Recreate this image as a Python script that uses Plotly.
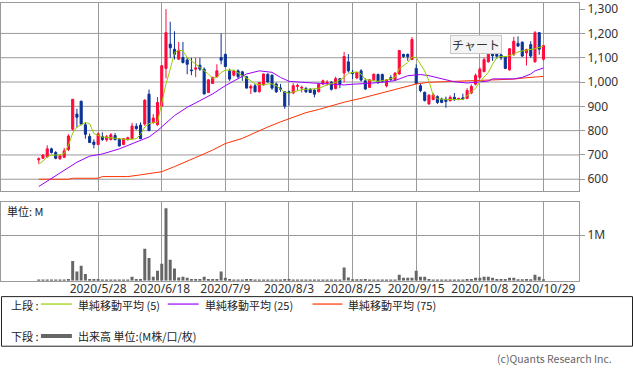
import plotly.graph_objects as go

# ---------------- data ----------------
open_ = [680, 686, 692, 725, 710, 684, 690, 722, 806, 868, 921, 824, 776, 753, 743, 776, 762, 763, 780, 765,
         743, 763, 767, 818, 823, 827, 950, 835, 824, 901, 1056, 1156, 1135, 1094, 1101, 1091, 1050, 1053, 1069, 1053,
         957, 994, 1022, 1101, 1114, 1046, 1028, 1046, 1042, 1022, 975, 985, 960, 988, 1032, 1028, 992, 976, 960, 960,
         955, 982, 975, 973, 970, 967, 960, 992, 995, 1000, 973, 1014, 1037, 1083, 1040, 1017, 1046, 1005, 978, 1009,
         1031, 1031, 984, 1018, 1009, 1033, 1114, 1114, 1093, 1056, 985, 958, 910, 928, 940, 930, 930, 923, 937, 928,
         935, 932, 955, 991, 1019, 1043, 1083, 1114, 1114, 1112, 1103, 1050, 1114, 1159, 1164, 1120, 1154, 1083, 1203, 1094]
high = [690, 702, 740, 730, 716, 700, 729, 785, 930, 890, 923, 835, 788, 764, 792, 793, 782, 790, 790, 770,
        770, 775, 832, 830, 834, 930, 969, 868, 938, 1070, 1300, 1248, 1209, 1165, 1165, 1100, 1100, 1100, 1100, 1060,
        1012, 1022, 1073, 1200, 1116, 1055, 1050, 1052, 1046, 1025, 990, 992, 1000, 1035, 1036, 1032, 998, 992, 963, 965,
        995, 993, 985, 980, 975, 970, 992, 1010, 1008, 1003, 1022, 1016, 1124, 1115, 1050, 1042, 1053, 1015, 1012, 1035,
        1035, 1035, 1012, 1028, 1040, 1132, 1116, 1117, 1185, 1073, 992, 960, 950, 955, 945, 936, 940, 945, 955, 936,
        952, 975, 990, 1035, 1060, 1101, 1127, 1118, 1116, 1116, 1106, 1140, 1186, 1188, 1167, 1137, 1168, 1210, 1205, 1152]
low = [664, 683, 690, 706, 682, 680, 687, 716, 800, 812, 822, 767, 749, 727, 740, 758, 755, 760, 760, 735,
       740, 759, 764, 804, 765, 820, 798, 828, 820, 897, 1015, 1100, 1093, 1091, 1077, 1032, 1028, 1020, 1046, 949,
       955, 992, 1019, 1073, 1060, 1005, 1023, 1015, 1005, 974, 951, 958, 957, 985, 998, 968, 955, 960, 890, 903,
       950, 965, 957, 955, 955, 937, 957, 988, 986, 965, 970, 975, 999, 1039, 1012, 1012, 1002, 968, 975, 1005,
       992, 998, 978, 1005, 1005, 1030, 1100, 1087, 1090, 992, 958, 920, 906, 925, 910, 913, 894, 920, 923, 925,
       928, 930, 950, 986, 1012, 1040, 1080, 1087, 1095, 1090, 1053, 1047, 1107, 1145, 1103, 1068, 1100, 1080, 1112, 1088]
close = [684, 700, 725, 710, 686, 697, 717, 778, 929, 855, 827, 785, 751, 743, 787, 763, 775, 783, 763, 737,
         767, 771, 819, 808, 767, 925, 800, 852, 916, 1067, 1203, 1141, 1114, 1131, 1080, 1073, 1047, 1058, 1053, 951,
         1009, 1019, 1046, 1090, 1064, 1012, 1045, 1022, 1025, 975, 982, 960, 998, 1033, 1000, 975, 960, 970, 901, 955,
         985, 986, 978, 960, 957, 950, 991, 1005, 999, 970, 1014, 991, 1105, 1046, 1035, 1039, 1008, 971, 1009, 1032,
         998, 1003, 1009, 1010, 1037, 1130, 1105, 1104, 1175, 994, 965, 924, 946, 947, 916, 916, 920, 937, 927, 932,
         930, 965, 982, 1027, 1053, 1092, 1114, 1108, 1106, 1100, 1056, 1137, 1168, 1148, 1107, 1134, 1107, 1203, 1135, 1150]
volume_m = [0.015, 0.015, 0.02, 0.015, 0.02, 0.02, 0.02, 0.04, 0.43, 0.20, 0.33, 0.15, 0.04, 0.04, 0.04, 0.02, 0.01, 0.01, 0.02, 0.02,
            0.02, 0.01, 0.09, 0.04, 0.04, 0.70, 0.50, 0.09, 0.22, 0.37, 1.59, 0.46, 0.27, 0.07, 0.09, 0.065, 0.04, 0.04, 0.04, 0.09,
            0.04, 0.04, 0.04, 0.20, 0.065, 0.04, 0.02, 0.02, 0.02, 0.04, 0.04, 0.01, 0.02, 0.02, 0.01, 0.01, 0.01, 0.01, 0.04, 0.04,
            0.01, 0.01, 0.01, 0.01, 0.01, 0.01, 0.01, 0.01, 0.01, 0.01, 0.02, 0.02, 0.29, 0.07, 0.03, 0.03, 0.03, 0.04, 0.02, 0.02,
            0.02, 0.01, 0.02, 0.02, 0.01, 0.13, 0.065, 0.065, 0.065, 0.22, 0.09, 0.09, 0.04, 0.02, 0.02, 0.02, 0.02, 0.01, 0.02, 0.01,
            0.02, 0.04, 0.04, 0.065, 0.065, 0.09, 0.09, 0.065, 0.04, 0.04, 0.04, 0.065, 0.065, 0.03, 0.03, 0.04, 0.03, 0.13, 0.09, 0.03]
day_index = list(range(len(close)))

ma5_idx = [0, 1, 2, 3, 5, 6, 7, 8, 9, 11, 12, 13, 15, 17, 19, 21, 23, 24, 25, 26, 28, 29, 30, 31, 32, 33, 34, 35, 36, 37,
           38, 40, 41, 42, 43, 44, 46, 47, 48, 50, 51, 53, 54, 55, 56, 57, 58, 59, 61, 62, 64, 66, 68, 69, 70, 72, 73, 75, 76, 77,
           79, 80, 82, 84, 85, 87, 88, 89, 91, 92, 93, 94, 96, 98, 100, 101, 103, 104, 106, 107, 108, 109, 110, 112, 113, 114, 116, 117, 119]
ma5_val = [662, 675, 692, 699, 700, 706, 740, 790, 815, 833, 829, 788, 774, 770, 765, 763, 767, 784, 815, 829, 835, 917, 992, 1053, 1121, 1131, 1128, 1101, 1087, 1073,
           1060, 1033, 1015, 1019, 1039, 1049, 1049, 1039, 1026, 1005, 992, 988, 992, 992, 985, 971, 958, 954, 965, 969, 971, 974, 988, 995, 999, 1019, 1036, 1042, 1033, 1010,
           1005, 1003, 1009, 1019, 1055, 1080, 1103, 1101, 1045, 1005, 944, 931, 928, 928, 928, 944, 974, 1001, 1040, 1073, 1101, 1105, 1104, 1114, 1124, 1128, 1132, 1137, 1148]
ma25_idx = [0, 3, 7, 9, 12, 15, 19, 22, 26, 28, 32, 35, 38, 41, 44, 46, 49, 52, 55, 57, 59, 62, 66, 70, 72, 74, 76, 78, 81, 84,
            87, 90, 92, 95, 97, 98, 101, 104, 106, 107, 112, 114, 116, 117, 119]
ma25_val = [570, 603, 650, 670, 695, 704, 725, 746, 774, 800, 862, 896, 924, 951, 985, 1005, 1033, 1046, 1040, 1019, 1003, 999, 995, 992, 988, 991, 992, 995, 999, 1006,
            1026, 1031, 1026, 1015, 1005, 1001, 996, 999, 1004, 1013, 1013, 1019, 1033, 1046, 1058]
ma75_idx = [0, 7, 8, 14, 15, 21, 24, 27, 29, 32, 35, 38, 41, 44, 48, 51, 54, 57, 60, 63, 66, 68, 72, 76, 80, 84, 87, 89, 92, 95,
            98, 100, 104, 108, 112, 115, 119]
ma75_val = [600, 600, 604, 604, 611, 611, 618, 625, 631, 652, 673, 697, 720, 747, 768, 792, 815, 836, 856, 874, 887, 897, 917, 933, 951, 969, 985, 992, 999, 1001,
            1003, 1004, 1008, 1010, 1012, 1018, 1023]

tick_index = [14, 29, 44, 59, 74, 89, 104, 119]
tick_labels = ["2020/5/28", "2020/6/18", "2020/7/9", "2020/8/3", "2020/8/25", "2020/9/15", "2020/10/8", "2020/10/29"]
price_ticks = [600, 700, 800, 900, 1000, 1100, 1200, 1300]
price_grid = [600, 700, 800, 900, 1000, 1100, 1200]

# ---------------- styles ----------------
W, H = 633, 372
UP = "#ff0a3c"
DOWN = "#0a3296"
C5, C25, C75 = "#99cc00", "#9900ff", "#ff3300"
GRID = "#9a9a9a"
FONT = "Noto Sans, Noto Sans CJK JP, sans-serif"
JFONT = "Noto Sans CJK JP, Noto Sans, sans-serif"


def px(x):
    return x / W


def py(y):
    return 1 - y / H


fig = go.Figure()
fig.add_trace(go.Candlestick(
    x=day_index, open=open_, high=high, low=low, close=close,
    increasing=dict(line=dict(color=UP, width=1), fillcolor=UP),
    decreasing=dict(line=dict(color=DOWN, width=1), fillcolor=DOWN),
    whiskerwidth=0, xaxis="x", yaxis="y", hoverinfo="skip", showlegend=False))
for idx, val, col in [(ma75_idx, ma75_val, C75), (ma25_idx, ma25_val, C25), (ma5_idx, ma5_val, C5)]:
    fig.add_trace(go.Scatter(x=idx, y=val, mode="lines", line=dict(color=col, width=1),
                             xaxis="x", yaxis="y", hoverinfo="skip", showlegend=False))
fig.add_trace(go.Bar(x=day_index, y=volume_m, marker=dict(color="#666666", line=dict(width=0)),
                     width=0.7, xaxis="x2", yaxis="y2", hoverinfo="skip", showlegend=False))

xr = [-8.9, 127.4]
axis_common = dict(showline=True, linecolor=GRID, linewidth=1, mirror=True, zeroline=False)
fig.update_layout(
    width=W, height=H, margin=dict(l=0, r=0, t=0, b=0),
    paper_bgcolor="white", plot_bgcolor="white",
    font=dict(family=FONT, size=12, color="#333333"),
    showlegend=False, boxgap=0.3,
    xaxis=dict(domain=[0, px(579)], range=xr, tickvals=tick_index, showticklabels=False,
               showgrid=True, gridcolor=GRID, gridwidth=1, rangeslider=dict(visible=False),
               anchor="y", **axis_common),
    yaxis=dict(domain=[py(190), 1], range=[549.7, 1325.2], side="right", tickvals=price_ticks,
               tickformat=",d", ticks="outside", ticklen=5, tickcolor=GRID, showgrid=False,
               ticklabeloverflow="allow",
               tickfont=dict(size=12, color="#333333"), anchor="x", **axis_common),
    xaxis2=dict(domain=[0, px(579)], range=xr, tickvals=tick_index, ticktext=tick_labels,
                showgrid=True, gridcolor=GRID, gridwidth=1, ticks="", ticklen=0, anchor="y2",
                ticklabelstandoff=-3, ticklabeloverflow="allow",
                tickfont=dict(size=12, color="#333333"), **axis_common),
    yaxis2=dict(domain=[py(280), py(201)], range=[0, 1.717], side="right", tickvals=[1], ticktext=["1M"],
                ticks="outside", ticklen=5, tickcolor=GRID, showgrid=True, gridcolor=GRID,
                tickfont=dict(size=12, color="#333333"), anchor="x2", **axis_common),
)

shapes = []
for g in price_grid:
    shapes.append(dict(type="line", xref="x", yref="y", x0=xr[0], x1=xr[1], y0=g, y1=g,
                       line=dict(color=GRID, width=1), layer="below"))
# legend box
shapes.append(dict(type="rect", xref="paper", yref="paper", x0=px(0.5), x1=px(632.5), y0=py(296), y1=py(346),
                   line=dict(color="#222222", width=1)))
leg_lines = [(40, 71, 303.5, C5, 1.2), (167, 198, 303.5, C25, 1.2), (312, 342, 303.5, C75, 1.2), (40, 71, 335.7, "#666666", 4)]
for x0, x1, yy, col, w in leg_lines:
    shapes.append(dict(type="line", xref="paper", yref="paper", x0=px(x0), x1=px(x1), y0=py(yy), y1=py(yy),
                       line=dict(color=col, width=w)))
fig.update_layout(shapes=shapes)

ann = []


def text(x, y, s, size=11, anchor="left", color="#222222", family=JFONT):
    ann.append(dict(x=px(x), y=py(y), xref="paper", yref="paper", text=s, showarrow=False,
                    xanchor=anchor, yanchor="middle", font=dict(size=size, color=color, family=family)))


text(8, 304, "上段 :")
text(75, 304, "単純移動平均 (5)")
text(202, 304, "単純移動平均 (25)")
text(346, 304, "単純移動平均 (75)")
text(8, 336, "下段 :")
text(75, 336, "出来高 単位:(M株/口/枚)")
text(614, 358, "(c)Quants Research Inc.", size=10.5, anchor="right", color="#666666")
text(4, 210, "単位: M", size=11)
ann.append(dict(x=px(475.7), y=py(41.7), xref="paper", yref="paper", text="チャート", showarrow=False,
                xanchor="center", yanchor="middle", width=48, height=15,
                bgcolor="#f4f4f4", bordercolor="#c8c8c8", borderwidth=1, borderpad=1,
                font=dict(size=12, color="#333333", family=JFONT)))
fig.update_layout(annotations=ann)

fig.write_html("out.html", config={"displayModeBar": False},
               post_script="document.body.style.margin='0';")
